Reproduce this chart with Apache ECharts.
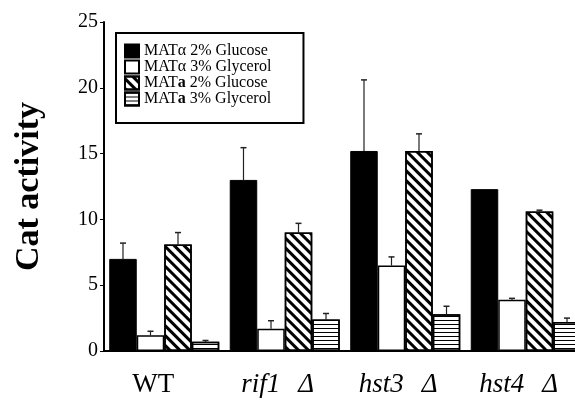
<!DOCTYPE html>
<html><head><meta charset="utf-8">
<script src="https://cdn.jsdelivr.net/npm/echarts@6/dist/echarts.min.js"></script>
<style>html,body{margin:0;padding:0;background:#fff;overflow:hidden;width:575px;height:400px}#c{width:600px;height:400px}</style>
</head><body><div id="c"></div>
<script>
const categories = ['WT', 'rif1|Δ', 'hst3|Δ', 'hst4|Δ'];
const seriesNames = ['MATα 2% Glucose', 'MATα 3% Glycerol', 'MATa 2% Glucose', 'MATa 3% Glycerol'];
const alphaGlucose = [7.0, 13.0, 15.2, 12.3];
const alphaGlycerol = [1.2, 1.7, 6.5, 3.9];
const aGlucose = [8.1, 9.0, 15.2, 10.6];
const aGlycerol = [0.7, 2.4, 2.8, 2.2];
const errAlphaGlucose = [8.2, 15.45, 20.6, 12.3];
const errAlphaGlycerol = [1.5, 2.3, 7.15, 4.0];
const errAGlucose = [9.0, 9.7, 16.5, 10.7];
const errAGlycerol = [0.8, 2.85, 3.4, 2.5];
const yTicks = [0, 5, 10, 15, 20, 25];

const values = [alphaGlucose, alphaGlycerol, aGlucose, aGlycerol];
const errs = [errAlphaGlucose, errAlphaGlycerol, errAGlucose, errAGlycerol];
const serif = '"Liberation Serif", "DejaVu Serif", serif';
const styles = [
  {color: '#000', borderColor: '#000', borderWidth: 1},
  {color: '#fff', borderColor: '#000', borderWidth: 1.5},
  {color: '#fff', borderColor: '#000', borderWidth: 1.5,
   decal: {symbol: 'rect', symbolSize: 1, color: '#000', dashArrayX: [1, 0], dashArrayY: [3, 3.5], rotation: Math.PI / 4}},
  {color: '#fff', borderColor: '#000', borderWidth: 1.5,
   decal: {symbol: 'rect', symbolSize: 1, color: '#000', dashArrayX: [1, 0], dashArrayY: [1, 2.5], rotation: 0}}
];
const GAP = 0.087;
const series = [];
values.forEach((v, i) => {
  series.push({
    name: seriesNames[i], type: 'bar', data: v, barGap: '0%', barCategoryGap: (GAP * 100) + '%',
    itemStyle: styles[i], emphasis: {disabled: true}, animation: false
  });
});
values.forEach((v, i) => {
  series.push({
    type: 'custom', animation: false, silent: true, z: 1,
    data: v.map((val, k) => [k, val, errs[i][k]]),
    renderItem: function (params, api) {
      const k = api.value(0);
      const p0 = api.coord([k, api.value(1)]);
      const p1 = api.coord([k, api.value(2)]);
      const band = api.size([1, 0])[0];
      const bw = band * (1 - GAP) / 4;
      const x = p0[0] + (i - 1.5) * bw;
      if (Math.abs(p1[1] - p0[1]) < 0.5) return null;
      return {type: 'group', children: [
        {type: 'line', shape: {x1: x, y1: p0[1], x2: x, y2: p1[1]}, style: {stroke: '#222', lineWidth: 1.2}},
        {type: 'line', shape: {x1: x - 3, y1: p1[1], x2: x + 3, y2: p1[1]}, style: {stroke: '#222', lineWidth: 1.5}}
      ]};
    }
  });
});
const chart = echarts.init(document.getElementById('c'));
chart.setOption({
  backgroundColor: '#fff',
  animation: false,
  grid: {left: 104, top: 22, width: 482, height: 329, containLabel: false},
  legend: {
    data: seriesNames, orient: 'vertical', left: 116, top: 33,
    itemWidth: 14, itemHeight: 13, itemGap: 0,
    borderColor: '#000', borderWidth: 2, padding: [10, 32, 16, 8],
    formatter: function (n) {
      return n.replace(/^MATa/, '{r|MAT}{b|a}{r|').replace(/^MATα/, '{r|MATα') + '}';
    },
    textStyle: {fontFamily: serif, fontSize: 16, lineHeight: 15, color: '#000',
      rich: {r: {fontFamily: serif, fontSize: 16, lineHeight: 15, color: '#000'},
             b: {fontFamily: serif, fontSize: 16, lineHeight: 15, color: '#000', fontWeight: 'bold'}}},
    icon: 'rect', selectedMode: false
  },
  xAxis: {
    type: 'category', data: categories,
    axisLine: {lineStyle: {color: '#000', width: 2}},
    axisTick: {show: false},
    axisLabel: {
      interval: 0, hideOverlap: false,
      margin: 20, color: '#000',
      formatter: function (v) {
        if (v === 'WT') return '{n|WT}';
        const p = v.split('|');
        return '{i|' + p[0] + '}{s|}{i|' + p[1] + '}{e|}';
      },
      rich: {
        n: {fontFamily: serif, fontSize: 27, color: '#000', padding: [0, 22, 0, 0]},
        i: {fontFamily: serif, fontSize: 27, fontStyle: 'italic', color: '#000'},
        s: {width: 18},
        e: {width: 14}
      }
    }
  },
  yAxis: {
    type: 'value', min: yTicks[0], max: yTicks[yTicks.length - 1], interval: 5,
    name: 'Cat activity', nameLocation: 'middle', nameGap: 58, nameRotate: 90,
    nameTextStyle: {fontFamily: serif, fontSize: 34, fontWeight: 'bold', color: '#000'},
    axisLine: {show: true, lineStyle: {color: '#000', width: 2}},
    axisTick: {show: true, length: 4, lineStyle: {color: '#000'}},
    axisLabel: {fontFamily: serif, fontSize: 20, color: '#000', margin: 6},
    splitLine: {show: false}
  },
  series: series
});
</script></body></html>
